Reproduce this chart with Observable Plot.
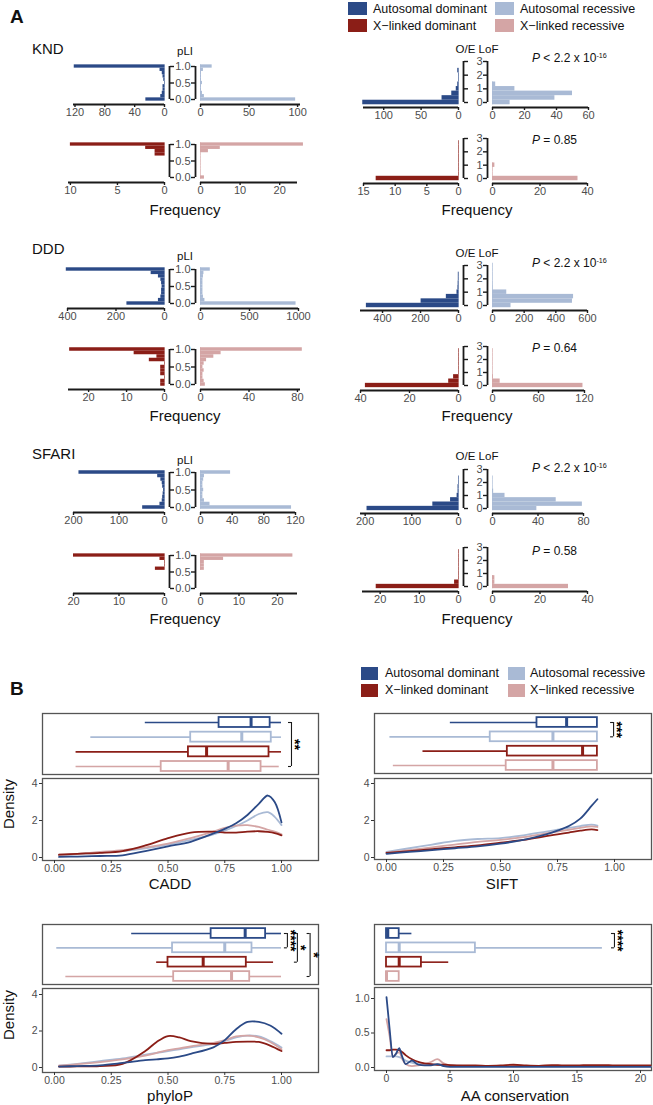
<!DOCTYPE html>
<html><head><meta charset="utf-8">
<script src="https://cdn.jsdelivr.net/npm/d3@7"></script>
<script src="https://cdn.jsdelivr.net/npm/@observablehq/plot@0.6"></script>
<style>
html,body{margin:0;padding:0;background:#fff;}
#root{position:relative;width:653px;height:1105px;overflow:hidden;background:#fff;font-family:"Liberation Sans",Arial,Helvetica,sans-serif;}
#root svg{position:absolute;overflow:visible;max-width:none;background:transparent;}
.t{position:absolute;white-space:nowrap;line-height:1;color:#111;}
.sw{position:absolute;}
.sup{font-size:0.6em;position:relative;top:-0.55em;}
</style></head><body><div id="root"></div>
<script>
// ---------------- DATA ----------------
const groups = ["AD","AR","XD","XR"];
const groupLabels = ["Autosomal dominant","Autosomal recessive","X\u2212linked dominant","X\u2212linked recessive"];
const groupColors = ["#2b4a87","#a9bad5","#8b1e17","#d4a5a5"];
const sets = ["KND","DDD","SFARI"];
const pValues = ["< 2.2 x 10<span class='sup'>-16</span>","= 0.85","< 2.2 x 10<span class='sup'>-16</span>","= 0.64","< 2.2 x 10<span class='sup'>-16</span>","= 0.58"];

// histogram bin centres
const pliBins = [0,0.1,0.2,0.3,0.4,0.5,0.6,0.7,0.8,0.9,1.0];
const oeBins = [0,0.333,0.667,1,1.333,1.667,2,2.333,2.667,3];
const pliTicks = [0,0.5,1];
const oeTicks = [0,1,2,3];

// pLI histogram counts (bins 0.0 ... 1.0)
const pli_KND_AD = [25,5,3,2,2,0,1,2,3,6,121];
const pli_KND_AR = [98,4,2,1,1,2,1,1,1,3,12];
const pli_KND_XD = [null,null,null,null,null,null,null,1,1,2,10];
const pli_KND_XR = [1,0,0,0,0,0,0,0,2,5,26];
const pli_DDD_AD = [155,25,15,12,12,10,12,15,25,55,405];
const pli_DDD_AR = [975,45,30,25,25,25,25,25,30,35,100];
const pli_DDD_XD = [1,1,0,1,1,1,0,4,2,8,25];
const pli_DDD_XR = [4,3,2,2,3,2,3,5,11,17,84];
const pli_SFARI_AD = [48,10,5,4,3,2,4,5,8,15,188];
const pli_SFARI_AR = [115,12,5,3,3,4,3,3,4,5,38];
const pli_SFARI_XD = [null,null,null,null,null,null,2,0,0,1,20];
const pli_SFARI_XR = [null,null,null,null,null,null,1,1,1,6,24];

// O/E LoF histogram counts (bins 0 ... 3)
const oe_KND_AD = [128,22,9,3,1,0,0,1,null,null];
const oe_KND_AR = [11,39,50,14,2,null,null,null,null,null];
const oe_KND_XD = [13,0,0,0,0,0,0,0,0,null];
const oe_KND_XR = [36,0,0,1,null,null,null,null,null,null];
const oe_DDD_AD = [485,197,64,8,3,2,1,1,null,null];
const oe_DDD_AR = [117,505,512,90,3,2,1,1,1,1];
const oe_DDD_XD = [38,4,2,0,0,0,0,0,0,null];
const oe_DDD_XR = [118,10,1,0,0,0,0,0,0,null];
const oe_SFARI_AD = [196,55,17,3,1,1,0,0,null,null];
const oe_SFARI_AR = [39,79,56,11,1,0,0,0,null,null];
const oe_SFARI_XD = [21,1,0,0,0,0,0,0,0,null];
const oe_SFARI_XR = [32,1,1,null,null,null,null,null,null,null];

// frequency axis ticks
const t_KND_pli = [[0,40,80,120],[0,50,100],[0,5,10],[0,10,20]];
const t_KND_oe = [[0,50,100],[0,20,40,60],[0,5,10,15],[0,20,40]];
const t_DDD_pli = [[0,200,400],[0,500,1000],[0,10,20],[0,40,80]];
const t_DDD_oe = [[0,200,400],[0,200,400,600],[0,20,40],[0,60,120]];
const t_SFARI_pli = [[0,100,200],[0,40,80,120],[0,10,20],[0,10,20]];
const t_SFARI_oe = [[0,100,200],[0,40,80],[0,10,20],[0,20,40]];

// Panel B: boxplot stats [lower whisker, Q1, median, Q3, upper whisker] in order AD, AR, XD, XR
const caddBox = [[0.40,0.725,0.866,0.95,1.0],[0.16,0.60,0.825,0.955,1.0],[0.095,0.59,0.67,0.945,1.0],[0.095,0.47,0.765,0.91,0.99]];
const siftBox = [[0.28,0.66,0.79,0.925,0.925],[0.015,0.455,0.73,0.925,0.925],[0.16,0.53,0.86,0.925,0.925],[0.03,0.525,0.73,0.925,0.925]];
const phylopBox = [[0.34,0.69,0.84,0.93,1.0],[0.01,0.52,0.75,0.87,1.0],[0.45,0.50,0.655,0.845,0.965],[0.05,0.525,0.78,0.86,1.0]];
const aaBox = [[0,0,0.1,1,2],[0,0,1,7,17],[0,0,1,2.75,4.9],[0,0,0,1,1]];
// significance brackets (group indices)
const caddSig = [{from:0,to:3,x:1.044,label:"**"}];
const siftSig = [{from:0,to:1,x:0.996,label:"***"}];
const phylopSig = [{from:0,to:1,x:1.026,label:"****"},{from:0,to:2,x:1.07,label:"*"},{from:0,to:3,x:1.126,label:"*"}];
const aaSig = [{from:0,to:1,x:17.95,label:"****"}];

// density curves
const caddX = [0.02,0.1,0.2,0.3,0.4,0.5,0.6,0.7,0.75,0.8,0.85,0.9,0.94,0.97,1.0];
const caddAD = [0.03,0.05,0.08,0.12,0.35,0.6,0.85,1.3,1.55,1.85,2.3,2.9,3.35,3.0,1.9];
const caddAR = [0.12,0.18,0.25,0.35,0.5,0.7,0.95,1.25,1.45,1.7,2.0,2.35,2.45,2.2,1.75];
const caddXD = [0.15,0.2,0.25,0.35,0.65,1.05,1.35,1.4,1.35,1.35,1.4,1.42,1.38,1.32,1.2];
const caddXR = [0.15,0.2,0.3,0.4,0.55,0.75,1.05,1.4,1.6,1.72,1.75,1.65,1.5,1.4,1.25];
const siftX = [0.0,0.1,0.2,0.3,0.4,0.5,0.6,0.7,0.75,0.8,0.85,0.9,0.925];
const siftAD = [0.2,0.3,0.4,0.5,0.6,0.75,0.95,1.25,1.45,1.7,2.1,2.8,3.15];
const siftAR = [0.3,0.5,0.7,0.9,1.0,1.05,1.2,1.4,1.5,1.6,1.7,1.78,1.72];
const siftXD = [0.25,0.35,0.45,0.55,0.65,0.8,0.95,1.15,1.25,1.35,1.45,1.52,1.48];
const siftXR = [0.25,0.4,0.55,0.7,0.85,0.95,1.1,1.3,1.4,1.5,1.6,1.68,1.65];
const phylopX = [0.02,0.1,0.2,0.3,0.4,0.45,0.5,0.55,0.6,0.7,0.75,0.8,0.85,0.9,0.95,1.0];
const phylopAD = [0.05,0.08,0.12,0.25,0.4,0.45,0.5,0.6,0.75,1.1,1.5,2.1,2.5,2.5,2.3,1.85];
const phylopAR = [0.1,0.2,0.35,0.5,0.7,0.8,0.9,1.0,1.1,1.3,1.45,1.65,1.75,1.7,1.45,1.1];
const phylopXD = [0.05,0.06,0.08,0.2,0.9,1.4,1.72,1.65,1.45,1.3,1.35,1.4,1.42,1.4,1.2,0.9];
const phylopXR = [0.1,0.18,0.3,0.45,0.65,0.8,0.95,1.05,1.15,1.35,1.5,1.7,1.75,1.65,1.4,1.0];
const aaX = [0,0.25,0.5,0.75,1,1.25,1.5,2,2.5,3,3.5,4,4.5,5,6,7,8,9,10,11,12,13,14,15,16,17,18,19,20,20.8];
const aaAD = [1.02,0.55,0.15,0.2,0.28,0.15,0.05,0.1,0.04,0.03,0.03,0.05,0.02,0.01,0.01,0.01,0.01,0.01,0.01,0.01,0.01,0.01,0.01,0.01,0.01,0.01,0.01,0.01,0.01,0.01];
const aaAR = [0.16,0.16,0.16,0.16,0.15,0.13,0.1,0.07,0.05,0.05,0.05,0.04,0.035,0.03,0.025,0.025,0.02,0.02,0.02,0.02,0.02,0.02,0.02,0.02,0.02,0.02,0.015,0.015,0.015,0.015];
const aaXD = [0.25,0.25,0.26,0.26,0.25,0.22,0.18,0.12,0.08,0.06,0.05,0.04,0.04,0.035,0.03,0.03,0.025,0.03,0.04,0.03,0.025,0.035,0.03,0.03,0.035,0.035,0.03,0.03,0.03,0.03];
const aaXR = [0.7,0.45,0.15,0.2,0.22,0.12,0.05,0.02,0.03,0.05,0.08,0.12,0.06,0.03,0.02,0.02,0.02,0.02,0.03,0.02,0.02,0.02,0.02,0.02,0.02,0.02,0.02,0.02,0.02,0.02];

// ---------------- DRAWING ----------------
const root = document.getElementById("root");
const FONT = '"Liberation Sans", Arial, Helvetica, sans-serif';
const GRAY = "#4d4d4d", INK = "#1a1a1a", BORDER = "#555";

function put(el, left, top){ el.style.position="absolute"; el.style.left=left+"px"; el.style.top=top+"px"; root.appendChild(el); return el; }
function text(html, x, y, o={}){
  const d=document.createElement("div"); d.className="t"; d.innerHTML=html;
  d.style.fontSize=(o.size||12)+"px"; d.style.fontWeight=o.weight||"normal"; if(o.color) d.style.color=o.color;
  const tx=o.anchor==="middle"?"-50%":o.anchor==="end"?"-100%":"0";
  d.style.transform=o.rotate?`translate(-50%,-50%) rotate(${o.rotate}deg)`:`translate(${tx},-50%)`;
  return put(d,x,y);
}
function swatch(color,x,y,w,h){ const d=document.createElement("div"); d.className="sw"; d.style.width=w+"px"; d.style.height=h+"px"; d.style.background=color; return put(d,x,y); }
const styleBase = {fontFamily:FONT, fontSize:"11px", overflow:"visible", background:"transparent", maxWidth:"none"};
const fmt1 = d3.format(".1f"), fmt0 = d3.format("d"), fmt2 = d3.format(".2f");

function halfPlot(h){
  const {bins,bw,counts,side,max,pxMax,zero,yTop,yZero,yMax,color,ticks,yTicks,yFmt}=h;
  const data=bins.map((c,i)=>({c,n:counts[i]})).filter(d=>d.n!=null);
  const mT=12,mB=26,mL=side==="L"?4:36,mR=side==="L"?16:4;
  const pw=Math.abs(zero-pxMax), ph=yZero-yTop;
  const svg=Plot.plot({
    width:pw+mL+mR, height:ph+mT+mB, marginTop:mT, marginBottom:mB, marginLeft:mL, marginRight:mR,
    style:styleBase,
    x:{domain:side==="L"?[max,0]:[0,max]},
    y:{domain:[0,yMax]},
    marks:[
      Plot.ruleX(data,{x:0,y1:d=>d.c-bw/2,y2:d=>d.c+bw/2,stroke:color,strokeWidth:0.8,strokeOpacity:0.8}),
      Plot.rect(data.filter(d=>d.n>0),{x1:0,x2:"n",y1:d=>d.c-bw/2,y2:d=>d.c+bw/2,fill:color}),
      Plot.ruleY([0],{x1:0,x2:max,dy:5,stroke:INK,strokeWidth:1.8}),
      Plot.axisX({ticks,tickFormat:fmt0,tickSize:3,tickPadding:1,dy:5,stroke:INK,strokeWidth:1.4,fill:GRAY,fontSize:11,label:null}),
      ...(side==="L"?[
        Plot.ruleX([0],{y1:0,y2:yMax,dx:5,stroke:INK,strokeWidth:1.8}),
        Plot.axisY({anchor:"right",ticks:yTicks,tickSize:4,dx:5,tickFormat:()=>"",stroke:INK,strokeWidth:1.4,label:null})
      ]:[
        Plot.ruleX([0],{y1:0,y2:yMax,dx:-5,stroke:INK,strokeWidth:1.8}),
        Plot.axisY({anchor:"left",ticks:yTicks,tickSize:4,tickPadding:1,dx:-5,tickFormat:yFmt,stroke:INK,strokeWidth:1.4,fill:GRAY,fontSize:11,label:null})
      ])
    ]
  });
  put(svg,(side==="L"?pxMax:zero)-mL,yTop-mT);
}

// layout of panel A: pixel positions
const colPli = {zeroL:164, zeroR:200, xLab:185};
const colOe = {zeroL:458, zeroR:492, xLab:477};
const rowPos = [
  {label:48, pliLab:52, oeLab:50, pliTop:[66,99], pliBot:[144,177], oeTop:[61,102], oeBot:[138,178], pTop:58, pBot:140, freq:209},
  {label:248, pliLab:257, oeLab:254, pliTop:[269,303], pliBot:[349,384], oeTop:[265,305], oeBot:[346,385], pTop:263, pBot:348, freq:415},
  {label:453, pliLab:461, oeLab:457, pliTop:[472,507], pliBot:[555,588], oeTop:[469,508], oeBot:[547,586], pTop:468, pBot:551, freq:618}
];
const pliCounts = [[pli_KND_AD,pli_KND_AR,pli_KND_XD,pli_KND_XR],[pli_DDD_AD,pli_DDD_AR,pli_DDD_XD,pli_DDD_XR],[pli_SFARI_AD,pli_SFARI_AR,pli_SFARI_XD,pli_SFARI_XR]];
const oeCounts = [[oe_KND_AD,oe_KND_AR,oe_KND_XD,oe_KND_XR],[oe_DDD_AD,oe_DDD_AR,oe_DDD_XD,oe_DDD_XR],[oe_SFARI_AD,oe_SFARI_AR,oe_SFARI_XD,oe_SFARI_XR]];
const pliTickSets = [t_KND_pli,t_DDD_pli,t_SFARI_pli];
const oeTickSets = [t_KND_oe,t_DDD_oe,t_SFARI_oe];
// axis extents [domain max, pixel of domain max] for AD, AR, XD, XR halves
const pliExt = [[[122,73],[103,300],[10.2,68],[24.5,297]],[[400,67],[1000,298],[25.3,68],[82.5,300]],[[200,73],[120,295],[20,73],[25.2,297]]];
const oeExt = [[[127,363],[60,588],[15,363],[40,587]],[[516,360],[600,587],[40,360],[120,584]],[[210,360],[80,583],[24.5,362],[40,587]]];

sets.forEach((s,r)=>{
  const R=rowPos[r];
  text(s,32,R.label,{size:15});
  text("pLI",colPli.xLab,R.pliLab,{size:11.5,anchor:"middle"});
  text("O/E LoF",colOe.xLab,R.oeLab,{size:11.5,anchor:"middle"});
  text("<i>P</i> "+pValues[2*r],532,R.pTop,{size:12});
  text("<i>P</i> "+pValues[2*r+1],532,R.pBot,{size:12});
  text("Frequency",colPli.xLab,R.freq,{size:15,anchor:"middle"});
  text("Frequency",colOe.xLab,R.freq,{size:15,anchor:"middle"});
  [0,1,2,3].forEach(g=>{
    const side=g%2===0?"L":"R";
    const ypl=g<2?R.pliTop:R.pliBot, yoe=g<2?R.oeTop:R.oeBot;
    halfPlot({bins:pliBins,bw:0.1,counts:pliCounts[r][g],side,max:pliExt[r][g][0],pxMax:pliExt[r][g][1],
      zero:side==="L"?colPli.zeroL:colPli.zeroR,yTop:ypl[0],yZero:ypl[1],yMax:1,color:groupColors[g],
      ticks:pliTickSets[r][g],yTicks:pliTicks,yFmt:fmt1});
    halfPlot({bins:oeBins,bw:0.333,counts:oeCounts[r][g],side,max:oeExt[r][g][0],pxMax:oeExt[r][g][1],
      zero:side==="L"?colOe.zeroL:colOe.zeroR,yTop:yoe[0],yZero:yoe[1],yMax:3,color:groupColors[g],
      ticks:oeTickSets[r][g],yTicks:oeTicks,yFmt:fmt0});
  });
});

// legends
function legend(x0,y0,sw,sh,tx,x1,tx1,dy,size){
  groups.forEach((g,i)=>{
    const col=i%2, row=Math.floor(i/2);
    const sx=col===0?x0:x1, lx=col===0?tx:tx1, cy=y0+row*dy;
    swatch(groupColors[i],sx,cy-sh/2,sw,sh);
    text(groupLabels[i],lx,cy,{size});
  });
}
legend(348,8.5,19,13,373,495,520,17,12.5);
legend(361,673,17,13,385,508,530,17,12.5);

text("A",10,16,{size:19,weight:"bold"});
text("B",10,688,{size:19,weight:"bold"});

// ---------- Panel B ----------
function boxPlot({stats,frame,domain,insetLeft,insetRight,sig}){
  const [x0,x1,y0,y1]=frame;
  const rows=groups.map((g,i)=>({g,i,wlo:stats[i][0],q1:stats[i][1],med:stats[i][2],q3:stats[i][3],whi:stats[i][4]}));
  const w=x1-x0,h=y1-y0,m=1;
  const cap=3*(domain[1]-domain[0])/(w-insetLeft-insetRight);
  const svg=Plot.plot({
    width:w+2*m,height:h+2*m,margin:m,style:styleBase,
    x:{domain,insetLeft,insetRight,axis:null},
    y:{domain:[0,3],reverse:true,insetTop:9,insetBottom:8,axis:null},
    color:{domain:groups,range:groupColors},
    marks:[
      Plot.frame({stroke:BORDER,strokeWidth:1.3}),
      Plot.ruleY(rows,{y:"i",x1:"wlo",x2:"q1",stroke:"g",strokeWidth:1.6}),
      Plot.ruleY(rows,{y:"i",x1:"q3",x2:"whi",stroke:"g",strokeWidth:1.6}),
      Plot.rect(rows,{x1:"q1",x2:"q3",y1:d=>d.i-0.34,y2:d=>d.i+0.34,fill:"white",stroke:"g",strokeWidth:1.8}),
      Plot.ruleX(rows,{x:"med",y1:d=>d.i-0.34,y2:d=>d.i+0.34,stroke:"g",strokeWidth:3}),
      Plot.ruleX(sig,{x:"x",y1:"from",y2:"to",stroke:INK,strokeWidth:1.1}),
      Plot.ruleY(sig,{y:"from",x1:d=>d.x-cap,x2:"x",stroke:INK,strokeWidth:1.1}),
      Plot.ruleY(sig,{y:"to",x1:d=>d.x-cap,x2:"x",stroke:INK,strokeWidth:1.1}),
      Plot.text(sig,{x:"x",y:d=>(d.from+d.to)/2,text:"label",rotate:90,dx:3,fontSize:14,fontWeight:"bold",fill:"#000"})
    ]
  });
  put(svg,x0-m,y0-m);
}
function densityPlot({frame,xDomain,insetLeft,insetRight,yDomain,insetTop,insetBottom,xTicks,xFmt,yTicks,yFmt,xs,ys,curve}){
  const [x0,x1,y0,y1]=frame;
  const data=[];
  [1,3,2,0].forEach(gi=>xs.forEach((x,j)=>data.push({g:groups[gi],x,y:ys[gi][j]})));
  const mL=30,mB=20,mT=1,mR=1;
  const svg=Plot.plot({
    width:(x1-x0)+mL+mR,height:(y1-y0)+mT+mB,marginLeft:mL,marginRight:mR,marginTop:mT,marginBottom:mB,style:styleBase,
    x:{domain:xDomain,insetLeft,insetRight},
    y:{domain:yDomain,insetTop,insetBottom},
    color:{domain:groups,range:groupColors},
    marks:[
      Plot.frame({stroke:BORDER,strokeWidth:1.3}),
      Plot.line(data,{x:"x",y:"y",z:"g",stroke:"g",strokeWidth:1.8,curve}),
      Plot.axisX({ticks:xTicks,tickFormat:xFmt,tickSize:3,tickPadding:1,fontSize:10.5,fill:GRAY,stroke:"#333",label:null}),
      Plot.axisY({ticks:yTicks,tickFormat:yFmt,tickSize:3,tickPadding:2,fontSize:10.5,fill:GRAY,stroke:"#333",label:null})
    ]
  });
  put(svg,x0-mL,y0-mT);
}
const unitTicks=[0,0.25,0.5,0.75,1];
boxPlot({stats:caddBox,frame:[42,318,713,774],domain:[0,1],insetLeft:12,insetRight:37,sig:caddSig});
boxPlot({stats:siftBox,frame:[374,651,713,773],domain:[0,1],insetLeft:12,insetRight:37,sig:siftSig});
boxPlot({stats:phylopBox,frame:[42,318,924,984],domain:[0,1],insetLeft:12,insetRight:37,sig:phylopSig});
boxPlot({stats:aaBox,frame:[374,651,924,984],domain:[0,20],insetLeft:12,insetRight:11,sig:aaSig});
densityPlot({frame:[42,318,778,860],xDomain:[0,1],insetLeft:12,insetRight:37,yDomain:[0,4],insetTop:5,insetBottom:3,
  xTicks:unitTicks,xFmt:fmt2,yTicks:[0,2,4],yFmt:fmt0,xs:caddX,ys:[caddAD,caddAR,caddXD,caddXR],curve:"catmull-rom"});
densityPlot({frame:[374,651,778,859],xDomain:[0,1],insetLeft:12,insetRight:37,yDomain:[0,4],insetTop:5,insetBottom:2,
  xTicks:unitTicks,xFmt:fmt2,yTicks:[0,2,4],yFmt:fmt0,xs:siftX,ys:[siftAD,siftAR,siftXD,siftXR],curve:"catmull-rom"});
densityPlot({frame:[42,318,988,1072],xDomain:[0,1],insetLeft:12,insetRight:37,yDomain:[0,4],insetTop:6,insetBottom:5,
  xTicks:unitTicks,xFmt:fmt2,yTicks:[0,2,4],yFmt:fmt0,xs:phylopX,ys:[phylopAD,phylopAR,phylopXD,phylopXR],curve:"catmull-rom"});
densityPlot({frame:[374,651,987,1070],xDomain:[0,20],insetLeft:12,insetRight:11,yDomain:[0,1],insetTop:11,insetBottom:3,
  xTicks:[0,5,10,15,20],xFmt:fmt0,yTicks:[0,0.5,1],yFmt:fmt1,xs:aaX,ys:[aaAD,aaAR,aaXD,aaXR],curve:"monotone-x"});

text("Density",8,804,{size:15,rotate:-90});
text("Density",8,1015,{size:15,rotate:-90});
text("CADD",170,883,{size:15,anchor:"middle"});
text("SIFT",502,883,{size:15,anchor:"middle"});
text("phyloP",170,1095,{size:15,anchor:"middle"});
text("AA conservation",515,1095,{size:15,anchor:"middle"});
</script></body></html>
